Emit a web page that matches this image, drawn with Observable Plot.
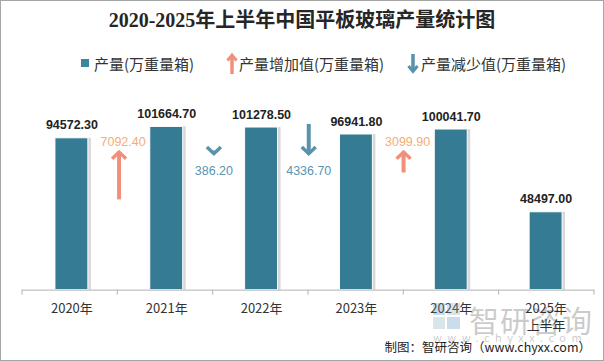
<!DOCTYPE html>
<html><head><meta charset="utf-8">
<script src="https://cdn.jsdelivr.net/npm/d3@7"></script>
<script src="https://cdn.jsdelivr.net/npm/@observablehq/plot@0.6"></script>
<style>
body{margin:0;background:#fff;}
#wrap{position:relative;width:604px;height:361px;box-sizing:border-box;border:1px solid #a6a6a6;overflow:hidden;font-family:"Noto Sans CJK SC",sans-serif;background:#fff;}
#title{position:absolute;top:5px;left:0;width:100%;text-align:center;font-family:"Liberation Serif","Noto Sans CJK SC",serif;font-weight:bold;font-size:20px;color:#262626;line-height:28px;}
.lg{position:absolute;top:50px;height:24px;display:flex;align-items:center;font-size:15px;color:#333;white-space:nowrap;}
#chart{position:absolute;top:79px;left:-1px;}
#caption{position:absolute;right:12px;top:336px;font-size:12.5px;color:#222;white-space:nowrap;}
#wm{position:absolute;left:468px;top:296px;font-size:30px;color:#000;opacity:0.2;letter-spacing:1px;white-space:nowrap;}
#wm2{position:absolute;left:432px;top:328px;font-size:11px;color:#000;opacity:0.2;letter-spacing:5.5px;white-space:nowrap;}
#logo{position:absolute;left:432px;top:302px;width:28px;height:26px;opacity:0.3;}
</style></head>
<body>
<div id="wrap">
  <div id="title">2020-2025年上半年中国平板玻璃产量统计图</div>
  <div class="lg" style="left:80px"><span style="display:inline-block;width:8px;height:8px;background:#3b87a2;margin-right:5px"></span>产量(万重量箱)</div>
  <div class="lg" style="left:225px"><svg width="12" height="22" style="margin-right:1px"><line x1="6" y1="22" x2="6" y2="4" stroke="#f0907a" stroke-width="3.5"/><polyline points="1.5,8.5 6,3 10.5,8.5" fill="none" stroke="#f0907a" stroke-width="3"/></svg>产量增加值(万重量箱)</div>
  <div class="lg" style="left:406px"><svg width="12" height="22" style="margin-right:2px"><line x1="6" y1="2" x2="6" y2="18" stroke="#5a92aa" stroke-width="3.5"/><polyline points="1.5,14 6,19.5 10.5,14" fill="none" stroke="#5a92aa" stroke-width="3"/></svg>产量减少值(万重量箱)</div>
  <div id="chart"></div>
  <svg id="logo" viewBox="0 0 28 26"><rect x="0" y="0" width="12" height="12" fill="#5a8fc0"/><rect x="14" y="0" width="13" height="12" fill="#8ab"/><rect x="0" y="14" width="12" height="12" fill="#8ab"/><rect x="14" y="14" width="13" height="12" fill="#5a8fc0"/></svg>
  <div id="wm">智研咨询</div>
  <div id="wm2">www.chyxx.com</div>
  <div id="caption">制图：智研咨询（www.chyxx.com）</div>
</div>
<script>
// ---- data ----
const years = ["2020年", "2021年", "2022年", "2023年", "2024年", "2025年\n上半年"];
const output = [94572.3, 101664.7, 101278.5, 96941.8, 100041.7, 48497.0];
const changeYears = ["2021年", "2022年", "2023年", "2024年"];
const changes = [7092.4, -386.2, -4336.7, 3099.9];

const bars = years.map((y, i) => ({year: y, value: output[i]}));
const W = 604, H = 256, mL = 22, mR = 9;
const step = (W - mL - mR) / years.length;
const k = 4.2;           // arrow length per unit of change (in y units)
const upTip = 86000, downTip = 85000;
const arrows = changeYears.map((y, i) => {
  const c = changes[i];
  const up = c > 0;
  const tip = up ? upTip : downTip;
  const tail = tip - c * k;
  return {year: y, change: c, up, tip, tail, label: Math.abs(c).toFixed(2)};
});
const ups = arrows.filter(d => d.up), downs = arrows.filter(d => !d.up);

const chevUp = {draw(ctx, size) { const r = Math.sqrt(size / Math.PI); ctx.moveTo(-r, r * 0.95); ctx.lineTo(0, 0); ctx.lineTo(r, r * 0.95); }};
const chevDown = {draw(ctx, size) { const r = Math.sqrt(size / Math.PI); ctx.moveTo(-r, -r * 0.95); ctx.lineTo(0, 0); ctx.lineTo(r, -r * 0.95); }};

function boundaryTicks(index, scales, values, dims) {
  const g = d3.create("svg:g").attr("stroke", "#b3b3b3");
  const y0 = scales.y(0);
  for (let i = 0; i <= years.length; i++) {
    const x = dims.marginLeft + i * step;
    g.append("line").attr("x1", x).attr("x2", x).attr("y1", y0).attr("y2", y0 + 5);
  }
  return g.node();
}

const chart = Plot.plot({
  width: W, height: H,
  marginLeft: mL, marginRight: mR, marginTop: 17, marginBottom: 46,
  style: {fontFamily: "'Noto Sans CJK SC', sans-serif", background: "transparent"},
  x: {domain: years, paddingInner: 0.655, paddingOuter: 0.3275, axis: null},
  y: {domain: [0, 120000], axis: null},
  marks: [
    Plot.barY(bars, {x: "year", y: "value", fill: "#c8c8c8", fillOpacity: 0.7, dx: 3, dy: 0}),
    Plot.barY(bars, {x: "year", y: "value", fill: "#367b94", stroke: "#ffffff", strokeWidth: 1}),
    Plot.text(bars, {x: "year", y: "value", text: d => d.value.toFixed(2), dy: -13, fontSize: 12.5, fontWeight: "bold", fill: "#222", fontFamily: "'Liberation Sans', sans-serif"}),
    Plot.ruleY([0], {stroke: "#b3b3b3"}),
    boundaryTicks,
    Plot.axisX({tickSize: 0, tickPadding: 11, fontSize: 13, fill: "#333", lineHeight: 1.3, label: null}),
    Plot.ruleX(ups, {x: "year", y1: "tail", y2: "tip", dx: -step / 2, stroke: "#f0907a", strokeWidth: 4}),
    Plot.dot(ups, {x: "year", y: "tip", dx: -step / 2, symbol: chevUp, r: 7, stroke: "#f0907a", strokeWidth: 3.5, fill: "none", strokeLinejoin: "miter"}),
    Plot.text(ups, {x: "year", y: "tip", text: "label", dx: -step / 2 + 4, dy: -10, fontSize: 12.5, fill: "#f5ad76", fontFamily: "'Liberation Sans', sans-serif"}),
    Plot.ruleX(downs, {x: "year", y1: "tail", y2: "tip", dx: -step / 2, stroke: "#5a92aa", strokeWidth: 4}),
    Plot.dot(downs, {x: "year", y: "tip", dx: -step / 2, symbol: chevDown, r: 7, stroke: "#5a92aa", strokeWidth: 3.5, fill: "none", strokeLinejoin: "miter"}),
    Plot.text(downs, {x: "year", y: "tip", text: "label", dx: -step / 2, dy: 17, fontSize: 12.5, fill: "#5b93b0", fontFamily: "'Liberation Sans', sans-serif"})
  ]
});
document.getElementById("chart").appendChild(chart);
</script>
</body></html>
